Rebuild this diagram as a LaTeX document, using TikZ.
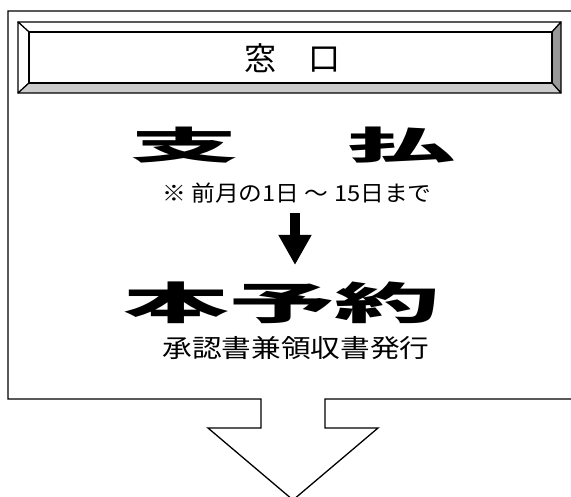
\documentclass[tikz,border=0pt]{standalone}
\usepackage{fontspec}
\newfontfamily\jpfont{Noto Sans CJK JP}
\usetikzlibrary{arrows.meta}

\tikzset{
  madoguchi/.style={
    x=1pt, y=-1pt,
    every node/.style={inner sep=0pt, font=\jpfont},
    frame/.style={draw=black, line width=1.3pt, line join=miter},
    bevel/.style={draw=black, line width=1.2pt, line join=round},
    title/.style={font=\jpfont\fontsize{32}{32}\selectfont},
    big/.style={font=\jpfont\bfseries\fontsize{38}{38}\selectfont, xscale=2.85},
    bigger/.style={font=\jpfont\bfseries\fontsize{44}{44}\selectfont, xscale=2.4},
    small/.style={font=\jpfont\fontsize{22}{22}\selectfont, xscale=1.08},
    fatarrow/.style={-{Triangle[width=31pt,length=30pt]}, line width=10pt}
  }
}

\begin{document}
\begin{tikzpicture}[madoguchi]
  \useasboundingbox (0,0) rectangle (571,497);
  \clip (0,0) rectangle (571,497);

  \draw[frame] (580,11) -- (8,11) -- (8,399) -- (261,399) -- (261,428)
    -- (208,428) -- (293,500) -- (378,428) -- (325,428) -- (325,399) -- (580,399);

  \filldraw[bevel, fill=white] (18,22) -- (561,22) -- (552,32) -- (29,32) -- cycle;
  \filldraw[bevel, fill=white] (18,22) -- (29,32) -- (29,83) -- (18,93) -- cycle;
  \filldraw[bevel, fill=black!40] (561,22) -- (561,93) -- (552,83) -- (552,32) -- cycle;
  \filldraw[bevel, fill=black!20] (18,93) -- (561,93) -- (552,83) -- (29,83) -- cycle;
  \draw[bevel] (29,32) rectangle (552,83);

  \node[title] (title) at (292,58) {窓　口};
  \node[big] (pay) at (293,145) {支　払};
  \node[small] (term) at (297,193) {※ 前月の1日 ～ 15日まで};
  \node[bigger] (honyoyaku) at (282,303) {本予約};
  \node[small, font=\jpfont\fontsize{25}{25}\selectfont, xscale=1.1] (receipt) at (296,348) {承認書兼領収書発行};

  \coordinate (arrtop) at (295,213);
  \coordinate (arrtip) at (295,265);
  \draw[fatarrow] (arrtop) -- (arrtip);
\end{tikzpicture}
\end{document}
